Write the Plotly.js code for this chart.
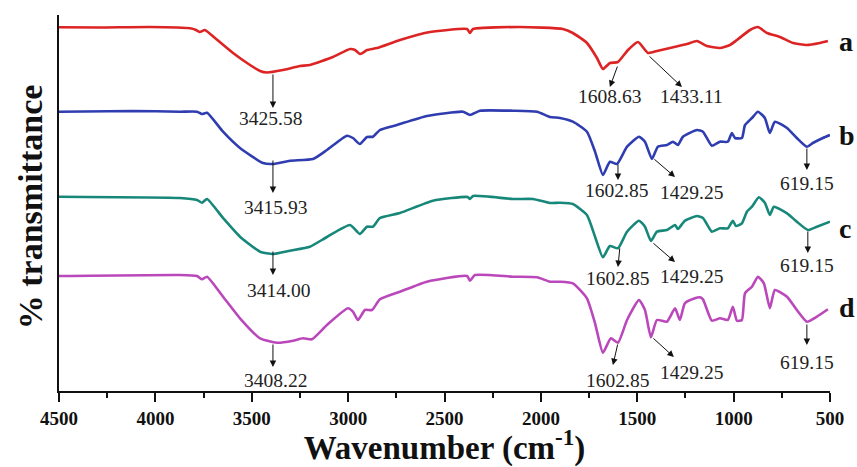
<!DOCTYPE html>
<html>
<head>
<meta charset="utf-8">
<script src="https://cdn.plot.ly/plotly-3.0.1.min.js"></script>
<style>html,body{margin:0;padding:0;background:#fff;}#chart{width:857px;height:467px;}</style>
</head>
<body>
<div id="chart"></div>
<script>
// Wavenumber (cm-1) and transmittance (arbitrary offset units)
const wnA = [4500,4287,4028,3820,3789,3769,3743,3691,3597,3509,3457,3421,3338,3250,3198,3079,2990,2964,2939,2918,2902,2850,2731,2575,2383,2368,2352,2109,1886,1834,1761,1709,1678,1642,1600,1548,1496,1444,1398,1330,1242,1190,1139,1071,1019,983,915,874,827,760,692,620,553,511];
const tA  = [363.7,363.5,364,362.7,361,359,361,353,338,326,320,318.5,321,325,326,334,342,341,337,339,341,343,351,359,362,358,362,364,362,358,348,333,322,328,329,341,349,338,340,343,347,350,345,343,346,351,361,364,358,354,348,346,348,350];

const wnB = [4500,4116,3872,3784,3758,3732,3649,3561,3442,3390,3302,3182,3110,3006,2975,2939,2902,2871,2835,2747,2591,2404,2368,2316,2145,2020,1953,1901,1834,1761,1719,1678,1642,1605,1553,1491,1460,1424,1393,1346,1315,1289,1263,1190,1159,1113,1071,1030,1009,993,957,941,905,874,838,812,786,723,672,620,589,537,500];
const tB  = [279.3,280,279.3,279.3,277,278.3,259.3,243,228,227,230.3,232,241,255.3,253,247,254,254.3,261,266,275,279.3,276,280.3,280.3,279.3,274,273,269.3,259.3,239.3,216,229.3,227,244.3,254.3,249.3,232,244.3,246,249.3,246,254.3,261,259.3,245.3,249.3,249.3,258,253,253,266,273,279.3,273,258,269.3,263,253,244.3,248,253,256];

const wnC = [4500,3872,3784,3758,3732,3649,3561,3457,3390,3302,3198,3110,2990,2939,2902,2871,2835,2731,2560,2380,2368,2352,2145,2041,1953,1901,1834,1761,1719,1678,1642,1600,1553,1491,1460,1429,1398,1346,1304,1289,1253,1190,1159,1113,1071,1030,1004,988,957,931,905,869,838,812,791,723,672,615,568,500];
const tC  = [194.3,193,191,188.3,192,173,154.3,139.3,137,140.3,144.3,154,166,157,164.3,164.3,173,178,190.3,194,192,195,192,192,188,188.3,187,176,154.3,133.7,145,142.7,159.3,170.3,164.3,150,159.3,161,166,162,170.3,175,173,159.3,162.7,162.7,170.3,165,167.7,179.3,184.3,193.7,188.3,176,184.3,177.7,169.3,161,164.3,169.3];

const wnD = [4500,3872,3784,3758,3732,3649,3561,3457,3369,3286,3234,3188,3110,3001,2975,2949,2913,2876,2835,2731,2591,2383,2368,2342,2145,2020,1953,1901,1834,1761,1719,1678,1637,1600,1553,1491,1460,1429,1398,1346,1304,1279,1253,1201,1175,1159,1113,1071,1030,1004,983,957,941,905,874,843,812,786,723,672,620,568,511];
const tD  = [115,116,115,111.7,114.3,94.3,72.7,52.7,48.3,50.3,52.7,51.7,66,82.7,79.3,71,81,81,91.7,99.3,109.3,115,110.3,116,114.3,113.7,109.3,109.3,107.7,92.7,67.7,38.3,52.7,48.3,71,91,81,53.7,71,69.3,82.7,71,87.7,92.7,93.7,91.7,70.3,72.7,71,84.3,70.3,71,97.7,104.3,114.3,107.7,82.7,101,94.3,81,69.3,74.3,81.7];

const sampleNames = ['a','b','c','d'];
const peakLabelsA = ['3425.58','1608.63','1433.11'];
const peakLabelsB = ['3415.93','1602.85','1429.25','619.15'];
const peakLabelsC = ['3414.00','1602.85','1429.25','619.15'];
const peakLabelsD = ['3408.22','1602.85','1429.25','619.15'];
const xTicks = [4500,4000,3500,3000,2500,2000,1500,1000,500];

const colors = ['#dd2424','#2f3db0','#17877a','#bb48bb'];
const series = [[wnA,tA],[wnB,tB],[wnC,tC],[wnD,tD]];
const traces = series.map((s,i)=>({
  x:s[0], y:s[1], type:'scatter', mode:'lines', name:sampleNames[i],
  line:{color:colors[i], width:2.6, shape:'spline', smoothing:0.5},
  hoverinfo:'skip'
}));

const serif = 'Liberation Serif, Times New Roman, serif';
const ann = [];
function arrow(x0,y0,x1,y1){
  ann.push({x:x1,y:y1,ax:x0,ay:y0,xref:'x',yref:'y',axref:'x',ayref:'y',text:'',
    showarrow:true,arrowhead:2,arrowsize:1.3,arrowwidth:1,arrowcolor:'#111',standoff:0,startstandoff:0});
}
function label(x,y,t){
  ann.push({x:x,y:y,xref:'x',yref:'y',text:t,showarrow:false,xanchor:'center',yanchor:'middle',
    font:{family:serif,size:19.5,color:'#222'}});
}
// a
arrow(3390,318,3390,283); label(3405,272.5,peakLabelsA[0]);
arrow(1600,326,1642,304); label(1644,295,peakLabelsA[1]);
arrow(1444,336,1268,304); label(1216,295,peakLabelsA[2]);
// b
arrow(3390,232,3390,198); label(3379,183.5,peakLabelsB[0]);
arrow(1600,228,1600,211); label(1610,201,peakLabelsB[1]);
arrow(1419,233,1304,214); label(1216,199,peakLabelsB[2]);
arrow(620,244,620,221); label(620,208,peakLabelsB[3]);
// c
arrow(3390,141,3390,116); label(3359,101,peakLabelsC[0]);
arrow(1590,144,1600,124); label(1605,113,peakLabelsC[1]);
arrow(1424,149,1304,129); label(1216,115,peakLabelsC[2]);
arrow(615,161,615,138); label(620,126,peakLabelsC[3]);
// d
arrow(3390,48,3390,24); label(3379,11,peakLabelsD[0]);
arrow(1600,48,1626,26); label(1605,11,peakLabelsD[1]);
arrow(1424,54,1310,34); label(1216,19,peakLabelsD[2]);
arrow(620,68,620,46); label(620,29,peakLabelsD[3]);

// sample letters at right
const letterY = [349.5,256,163,83.5];
sampleNames.forEach((n,i)=>ann.push({x:1.009,y:letterY[i],xref:'paper',yref:'y',text:'<b>'+n+'</b>',
  showarrow:false,xanchor:'left',yanchor:'middle',font:{family:serif,size:28,color:'#111'}}));

// y title
ann.push({x:-0.037,y:0.49,xref:'paper',yref:'paper',text:'<b>% transmittance</b>',textangle:-90,
  showarrow:false,xanchor:'center',yanchor:'middle',font:{family:serif,size:34,color:'#111'}});

const layout = {
  width:857,height:467,
  margin:{l:59,r:27,t:15,b:76},
  paper_bgcolor:'#fff',plot_bgcolor:'#fff',
  showlegend:false,
  xaxis:{range:[4500,500],tickvals:xTicks,ticktext:xTicks.map(v=>'<b>'+v+'</b>'),
    showline:true,linecolor:'#111',linewidth:2,ticks:'outside',ticklen:9,tickwidth:2,tickcolor:'#111',
    minor:{dtick:250,tick0:500,ticks:'outside',ticklen:5,tickwidth:2,tickcolor:'#111'},
    showgrid:false,zeroline:false,
    tickfont:{family:serif,size:19,color:'#111'},
    title:{text:'<b>Wavenumber (cm<sup>-1</sup>)</b>',font:{family:serif,size:33,color:'#111'},standoff:1}},
  yaxis:{range:[0,376],showline:true,linecolor:'#111',linewidth:2,ticks:'',showticklabels:false,
    showgrid:false,zeroline:false},
  annotations:ann
};
Plotly.newPlot('chart',traces,layout,{staticPlot:true,displayModeBar:false});
</script>
</body>
</html>
